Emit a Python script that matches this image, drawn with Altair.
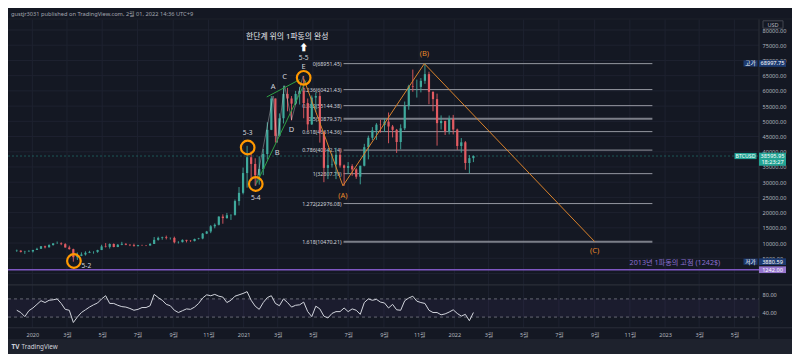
import altair as alt
import numpy as np
import pandas as pd

# ---------------- data ----------------
FIRST_WEEK = "2019-12-02"
FIRST_OPEN = 7400
CLOSE = [
    7500, 7100, 7150, 7250, 7750,
    8100, 8950, 8600, 9350, 9900,
    9900, 9650, 8550, 8000, 5350,
    5800, 6250, 6800, 7100, 7100,
    7700, 8900, 8750, 9700, 8700,
    9450, 9750, 9450, 9300, 9000,
    9300, 9250, 9200, 9700, 11050,
    11700, 11900, 11650, 11700, 10250,
    10300, 11050, 10750, 10650, 11350,
    11500, 13100, 13800, 15500, 16000,
    18700, 18200, 19150, 19250, 23800,
    26500, 33000, 38200, 36000, 32300,
    34300, 39250, 47200, 57500, 45200,
    51000, 59000, 57500, 55800, 59000,
    60000, 56000, 49000, 57800, 58300,
    46500, 34700, 35600, 35800, 39000,
    35500, 34700, 35300, 34200, 31800,
    35400, 41500, 44600, 47000, 48900,
    48800, 49900, 48300, 47200, 43200,
    47700, 55000, 61500, 61300, 61300,
    63300, 65500, 59700, 57300, 49400,
    50100, 46700, 50800, 47300, 41900,
    43100, 36300, 37900, 38595.95,
]
HIGH = [
    7850, 7650, 7450, 7700, 7750,
    8450, 9000, 9150, 9600, 9950,
    10500, 10250, 9950, 9150, 8150,
    6900, 6950, 7300, 7450, 7300,
    7800, 9450, 10000, 9900, 9900,
    9700, 10400, 9950, 9600, 9800,
    9400, 9450, 9350, 10000, 12000,
    12100, 12100, 12450, 11800, 12100,
    10600, 11200, 11050, 10950, 11450,
    11700, 13300, 14000, 15900, 16450,
    18800, 19450, 19900, 19450, 24300,
    28400, 34800, 41950, 40100, 37850,
    38500, 40900, 49700, 58300, 57500,
    52600, 61700, 61000, 58300, 60000,
    61300, 64900, 57500, 58500, 59500,
    59600, 46600, 40800, 39400, 41300,
    41000, 35800, 36600, 35900, 34600,
    35400, 42600, 45300, 48100, 49400,
    50500, 51000, 52900, 48800, 47500,
    49000, 56500, 62000, 67000, 63700,
    64200, 68997.75, 66300, 59800, 59100,
    51950, 50200, 51900, 52100, 47600,
    44500, 43500, 38900, 38800,
]
LOW = [
    7100, 6900, 6450, 7100, 6900,
    7750, 8050, 8250, 8550, 9150,
    9700, 9300, 8500, 7850, 3880.59,
    4450, 5700, 5900, 6700, 6500,
    6800, 7700, 8550, 8200, 8600,
    8650, 9300, 9300, 9000, 8850,
    8900, 9100, 9000, 9150, 9700,
    10800, 11100, 11200, 11150, 9900,
    9850, 10200, 10200, 10400, 10550,
    11200, 11250, 12950, 13250, 14850,
    15800, 16350, 18000, 17600, 19000,
    22350, 26000, 28200, 30400, 28850,
    29200, 32300, 37400, 47100, 43000,
    44950, 49300, 53300, 50300, 55500,
    55500, 51000, 47000, 48800, 53000,
    43000, 30000, 31000, 34800, 31000,
    34800, 28800, 32700, 32100, 31100,
    29300, 35200, 37500, 43800, 43900,
    46300, 46500, 42800, 44700, 39600,
    40800, 47100, 53800, 59700, 57800,
    59500, 62300, 55600, 53300, 42000,
    47300, 45500, 45700, 45700, 40600,
    39700, 34100, 32900, 36600,
]
RSI = [
    45, 40, 31, 44, 50, 58, 66, 62, 67, 68,
    70, 60, 47, 45, 18, 30, 40, 46, 52, 57,
    61, 70, 77, 60, 60, 56, 53, 52, 49, 45,
    47, 51, 51, 55, 80, 73, 67, 58, 55, 45,
    40, 44, 48, 47, 52, 60, 72, 79, 77, 80,
    76, 74, 62, 67, 76, 79, 82, 86, 67, 54,
    47, 62, 73, 77, 60, 55, 70, 62, 52, 56,
    57, 63, 42, 31, 54, 48, 32, 28, 38, 42,
    42, 50, 42, 48, 45, 36, 62, 70, 67, 69,
    63, 61, 50, 58, 46, 45, 66, 72, 76, 65,
    62, 60, 45, 40, 40, 35, 37, 41, 46, 38,
    32, 36, 22, 40,
]

PRICE_TICKS = [0, 5000, 10000, 15000, 20000, 25000, 30000, 35000, 40000,
               45000, 50000, 55000, 60000, 65000, 70000, 75000, 80000]
MONTH_TICKS = [(2020, 1), (2020, 3), (2020, 5), (2020, 7), (2020, 9), (2020, 11),
               (2021, 1), (2021, 3), (2021, 5), (2021, 7), (2021, 9), (2021, 11),
               (2022, 1), (2022, 3), (2022, 5), (2022, 7), (2022, 9), (2022, 11),
               (2023, 1), (2023, 3), (2023, 5)]
RSI_TICKS = [40, 80]
RSI_LEVELS = [70, 30]

FIB_RATIO = ["0", "0.236", "0.382", "0.5", "0.618", "0.786", "1", "1.272", "1.618"]
FIB_PRICE = [68951.45, 60421.43, 55144.38, 50879.37, 46614.36, 40542.14,
             32807.79, 22976.08, 10470.21]
FIB_START = "2021-06-23"
FIB_END = "2022-12-10"

ABC_NAME = ["", "(A)", "(B)", "(C)"]
ABC_DATE = ["2021-04-15", "2021-06-22", "2021-11-10", "2022-09-01"]
ABC_PRICE = [64000, 28800, 68950, 10470]

WAVE_NAME = ["5-4", "A", "B", "C", "D", "E"]
WAVE_DATE = ["2021-01-22", "2021-02-21", "2021-02-28", "2021-03-13", "2021-03-25", "2021-04-14"]
WAVE_PRICE = [28800, 58300, 43000, 61700, 50500, 64900]

CIRCLE_NAME = ["5-2", "5-3", "5-4", "E"]
CIRCLE_DATE = ["2020-03-13", "2021-01-08", "2021-01-22", "2021-04-15"]
CIRCLE_PRICE = [4100, 41400, 29400, 64300]

TREND_NAME = ["upper", "upper", "lower", "lower"]
TREND_DATE = ["2021-02-10", "2021-04-08", "2021-01-23", "2021-04-19"]
TREND_PRICE = [58000, 63700, 29500, 63400]

LAST_PRICE = 38595.95
LAST_TIME = "18:23:27"
HIGH_PRICE = 68997.75
LOW_PRICE = 3880.59
TOP_2013 = 1242.00
TOP_2013_TEXT = "2013년 1파동의 고점 (1242$)"
TOP_2013_DATE = "2023-01-18"
TITLE_TEXT = "한단계 위의 1파동의 완성"
HEADER_TEXT = "gustjr3031 published on TradingView.com, 2월 01, 2022 14:36 UTC+9"

# ---------------- tables ----------------
weeks = pd.date_range(FIRST_WEEK, periods=len(CLOSE), freq="7D") + pd.Timedelta(days=3)
candles = pd.DataFrame({
    "t": weeks.strftime("%Y-%m-%d"),
    "open": [FIRST_OPEN] + CLOSE[:-1],
    "close": CLOSE, "high": HIGH, "low": LOW, "rsi": RSI,
})
candles["dir"] = np.where(candles["close"] >= candles["open"], "up", "down")

fib = pd.DataFrame({"ratio": FIB_RATIO, "p": FIB_PRICE})
fib["x0"] = FIB_START
fib["x1"] = FIB_END
fib["label"] = [f"{r}({p:.2f})" for r, p in zip(FIB_RATIO, FIB_PRICE)]

abc = pd.DataFrame({"name": ABC_NAME, "t": ABC_DATE, "p": ABC_PRICE})
wave = pd.DataFrame({"name": WAVE_NAME, "t": WAVE_DATE, "p": WAVE_PRICE})
circ = pd.DataFrame({"name": CIRCLE_NAME, "t": CIRCLE_DATE, "p": CIRCLE_PRICE})
trend = pd.DataFrame({"name": TREND_NAME, "t": TREND_DATE, "p": TREND_PRICE})
price_ticks = pd.DataFrame({"p": PRICE_TICKS})
month_ticks = pd.DataFrame({"t": [f"{y}-{m:02d}-01" for y, m in MONTH_TICKS]})
rsi_levels = pd.DataFrame({"r": RSI_LEVELS})
rsi_ticks = pd.DataFrame({"r": RSI_TICKS})
rsi_band = pd.DataFrame({"hi": [max(RSI_LEVELS)], "lo": [min(RSI_LEVELS)]})

# ---------------- scales & helpers ----------------
W = 751
H = 346
FONT = "Noto Sans, Noto Sans CJK KR, sans-serif"
BG = "#141823"
GRID = "#1e2230"
SEP = "#2a2e39"
LABEL = "#b2b5be"
TEXT = "#d1d4dc"
AX_FS = 5.6

XS = alt.Scale(type="utc",
               domain=[alt.DateTime(year=2019, month=11, date=28, hours=12, utc=True),
                       alt.DateTime(year=2023, month=6, date=4, utc=True)])
XAXIS = alt.Axis(
    values=[alt.DateTime(year=y, month=m, date=1, utc=True) for y, m in MONTH_TICKS],
    labelExpr="utcmonth(datum.value) == 0 ? '' + utcyear(datum.value) : (utcmonth(datum.value) + 1) + '월'",
    orient="bottom", offset=-20, domain=False, ticks=False, grid=False,
    labelColor=LABEL, labelFontSize=AX_FS, labelFont=FONT, labelPadding=0,
    labelBaseline="middle", labelOverlap=False, labelFlush=False, title=None, zindex=0)
PS = alt.Scale(domain=[-3450, 83450], range=[276, 11.5], nice=False, zero=False)
RS = alt.Scale(domain=[7, 100], range=[319.5, 277.3], nice=False, zero=False)
PAXIS = alt.Axis(orient="right", values=PRICE_TICKS[1:], format=".2f", domain=False,
                 ticks=False, grid=False, labelColor=LABEL, labelFontSize=AX_FS,
                 labelFont=FONT, labelPadding=3, labelOverlap=False, title=None, zindex=0)
RAXIS = alt.Axis(orient="right", values=RSI_TICKS, format=".2f", domain=False,
                 ticks=False, grid=False, labelColor=LABEL, labelFontSize=AX_FS,
                 labelFont=FONT, labelPadding=3, labelOverlap=False, title=None, zindex=0)


def X(f):
    return alt.X(f, type="temporal", scale=XS, axis=XAXIS)


def YP(f, axis=None):
    return alt.Y(f, type="quantitative", scale=PS, axis=axis)


def YR(f, axis=None):
    return alt.Y(f, type="quantitative", scale=RS, axis=axis)


def only(names):
    return alt.FieldOneOfPredicate(field="name", oneOf=names)


layers = []

# grid
layers.append(alt.Chart(price_ticks).mark_rule(color=GRID, strokeWidth=1).encode(
    y=YP("p", PAXIS), x=alt.value(0), x2=alt.value(W)))
layers.append(alt.Chart(month_ticks).mark_rule(color=GRID, strokeWidth=1).encode(
    x=X("t"), y=alt.value(11.5), y2=alt.value(319.5)))

# RSI pane
layers.append(alt.Chart(rsi_band).mark_rect(color="#7e57c2", opacity=0.07).encode(
    x=alt.value(0), x2=alt.value(W), y=YR("hi"), y2="lo"))
layers.append(alt.Chart(rsi_ticks).mark_rule(opacity=0).encode(
    y=YR("r", RAXIS), x=alt.value(0), x2=alt.value(1)))
layers.append(alt.Chart(rsi_levels).mark_rule(color="#787b86", strokeDash=[3, 3], strokeWidth=0.8).encode(
    y=YR("r"), x=alt.value(0), x2=alt.value(W)))

# pane separators
layers.append(alt.Chart().mark_rule(color=SEP, strokeWidth=1).encode(
    x=alt.value(W), y=alt.value(11), y2=alt.value(331)))
layers.append(alt.Chart().mark_rule(color=SEP, strokeWidth=1.2).encode(
    x=alt.value(0), x2=alt.value(784), y=alt.value(276.8)))
layers.append(alt.Chart().mark_rule(color=SEP, strokeWidth=1).encode(
    x=alt.value(0), x2=alt.value(784), y=alt.value(319.8)))
layers.append(alt.Chart().mark_rule(color="#1c202b", strokeWidth=1).encode(
    x=alt.value(0), x2=alt.value(784), y=alt.value(11)))

# fib levels
layers.append(alt.Chart(fib).mark_rule(color="#9598a1").encode(
    x=X("x0"), x2="x1", y=YP("p"),
    strokeWidth=alt.condition("datum.ratio == '0.5' || datum.ratio == '1.618'",
                              alt.value(2), alt.value(1)),
    opacity=alt.condition("datum.ratio == '0.5' || datum.ratio == '1.618'",
                          alt.value(0.8), alt.value(1))))
layers.append(alt.Chart(fib).mark_text(align="right", baseline="middle", dx=-2,
                                       fontSize=5.3, color=TEXT, font=FONT).encode(
    x=X("x0"), y=YP("p"), text="label:N"))

# 2013 top line
top = pd.DataFrame({"p": [TOP_2013], "t": [TOP_2013_DATE], "txt": [TOP_2013_TEXT]})
layers.append(alt.Chart(top).mark_rule(color="#7e57c2", strokeWidth=1.5).encode(
    y=YP("p"), x=alt.value(0), x2=alt.value(W)))
layers.append(alt.Chart(top).mark_text(color="#8b6fd0", fontSize=7.2, font=FONT, dy=-7).encode(
    x=X("t"), y=YP("p"), text="txt:N"))

# current price dashed line
last = pd.DataFrame({"p": [LAST_PRICE]})
layers.append(alt.Chart(last).mark_rule(color="#26a69a", strokeDash=[2, 2], opacity=0.45).encode(
    y=YP("p"), x=alt.value(0), x2=alt.value(W)))

# candles
CCOL = alt.Color("dir:N", scale=alt.Scale(domain=["up", "down"], range=["#3fa99c", "#e25b62"]), legend=None)
layers.append(alt.Chart(candles).mark_rule(strokeWidth=0.9).encode(
    x=X("t"), y=YP("low"), y2="high", color=CCOL))
layers.append(alt.Chart(candles).mark_bar(width=2.2).encode(
    x=X("t"), y=YP("open"), y2="close", color=CCOL))

# RSI line
layers.append(alt.Chart(candles).mark_line(color="#d1d4dc", strokeWidth=1).encode(
    x=X("t"), y=YR("rsi")))

# wave drawing
layers.append(alt.Chart(wave).mark_line(color="#ffffff", strokeWidth=0.8, opacity=0.4).encode(
    x=X("t"), y=YP("p")))
layers.append(alt.Chart(trend).mark_line(color="#2ea043", strokeWidth=1).encode(
    x=X("t"), y=YP("p"), detail="name:N"))
layers.append(alt.Chart(abc).mark_line(color="#d9822b", strokeWidth=1).encode(
    x=X("t"), y=YP("p")))

# circles
layers.append(alt.Chart(circ).mark_point(shape="circle", filled=False, size=185, strokeWidth=2.2,
                                         color="#ff9800", opacity=1).encode(x=X("t"), y=YP("p")))


def label(df, names, dx, dy, color=TEXT, size=7.5):
    return alt.Chart(df).transform_filter(only(names)).mark_text(
        dx=dx, dy=dy, color=color, fontSize=size, font=FONT, baseline="middle").encode(
        x=X("t"), y=YP("p"), text="name:N")


layers.append(label(circ, ["5-2"], 12.5, 5, size=6.6))
layers.append(label(circ, ["5-3"], 0, -14.5, size=6.6))
layers.append(label(circ, ["5-4"], 0, 13.5, size=6.6))
layers.append(label(circ, ["E"], 0, -11, size=7.5))
layers.append(label(wave, ["A", "C"], 0, -9, size=7.5))
layers.append(label(wave, ["B", "D"], 0, 10, size=7.5))
layers.append(label(abc, ["(A)"], 0, 10, color="#e8892a", size=7.5))
layers.append(label(abc, ["(B)"], 0, -9.5, color="#e8892a", size=7.5))
layers.append(label(abc, ["(C)"], 0, 9.5, color="#e8892a", size=7.5))

e_only = alt.Chart(circ).transform_filter(only(["E"]))
layers.append(e_only.mark_text(dy=-20, color=TEXT, fontSize=6.6, font=FONT).encode(
    x=X("t"), y=YP("p"), text=alt.value("5-5")))
layers.append(e_only.mark_text(dy=-29.5, color="#ffffff", fontSize=9, font=FONT, fontWeight="bold").encode(
    x=X("t"), y=YP("p"), text=alt.value("⬆")))
layers.append(e_only.mark_text(dx=-16.5, dy=-41, color="#e6e8ee", fontSize=7.8, font=FONT).encode(
    x=X("t"), y=YP("p"), text=alt.value(TITLE_TEXT)))

# ---------------- price-axis tags ----------------
BOX_VALUE = "M-1,-0.25L1,-0.25L1,0.25L-1,0.25Z"
BOX_LAST = "M-1,-0.25L1,-0.25L1,0.72L-1,0.72Z"
BOX_SMALL = "M-1,-0.44L1,-0.44L1,0.44L-1,0.44Z"
BOX_TICKER = "M-1,-0.28L1,-0.28L1,0.28L-1,0.28Z"
VX = 764.5
NAVY = "#1c3a70"
TEAL = "#22a393"
TAG_FS = 5.6

nav = pd.DataFrame({"p": [HIGH_PRICE, LOW_PRICE], "name": ["고가", "저가"],
                    "value": [f"{HIGH_PRICE:.2f}", f"{LOW_PRICE:.2f}"]})
layers.append(alt.Chart(nav).mark_point(shape=BOX_VALUE, size=729, filled=True, color=NAVY, opacity=1).encode(
    x=alt.value(VX), y=YP("p")))
layers.append(alt.Chart(nav).mark_point(shape=BOX_SMALL, size=196, filled=True, color=NAVY, opacity=1).encode(
    x=alt.value(742.5), y=YP("p")))
layers.append(alt.Chart(nav).mark_text(color="#ffffff", fontSize=TAG_FS, font=FONT, baseline="middle").encode(
    x=alt.value(VX), y=YP("p"), text="value:N"))
layers.append(alt.Chart(nav).mark_text(color="#ffffff", fontSize=TAG_FS, font=FONT, baseline="middle").encode(
    x=alt.value(742.5), y=YP("p"), text="name:N"))

lastdf = pd.DataFrame({"p": [LAST_PRICE], "value": [f"{LAST_PRICE:.2f}"], "time": [LAST_TIME]})
layers.append(alt.Chart(lastdf).mark_point(shape=BOX_LAST, size=729, filled=True, color=TEAL, opacity=1).encode(
    x=alt.value(VX), y=YP("p")))
layers.append(alt.Chart(lastdf).mark_point(shape=BOX_TICKER, size=484, filled=True, color=TEAL, opacity=1).encode(
    x=alt.value(737.5), y=YP("p")))
layers.append(alt.Chart(lastdf).mark_text(color="#ffffff", fontSize=TAG_FS, font=FONT, baseline="middle").encode(
    x=alt.value(VX), y=YP("p"), text="value:N"))
layers.append(alt.Chart(lastdf).mark_text(color="#ffffff", fontSize=TAG_FS, font=FONT, baseline="middle", dy=6).encode(
    x=alt.value(VX), y=YP("p"), text="time:N"))
layers.append(alt.Chart(lastdf).mark_text(color="#ffffff", fontSize=5.2, font=FONT, baseline="middle").encode(
    x=alt.value(737.5), y=YP("p"), text=alt.value("BTCUSD")))

topdf = pd.DataFrame({"p": [TOP_2013], "value": [f"{TOP_2013:.2f}"]})
layers.append(alt.Chart(topdf).mark_point(shape=BOX_VALUE, size=729, filled=True, color="#9575cd", opacity=1).encode(
    x=alt.value(VX), y=YP("p")))
layers.append(alt.Chart(topdf).mark_text(color="#ffffff", fontSize=TAG_FS, font=FONT, baseline="middle").encode(
    x=alt.value(VX), y=YP("p"), text="value:N"))

# USD box
layers.append(alt.Chart().mark_point(shape="M-1,-0.37L1,-0.37L1,0.37L-1,0.37Z", size=400, filled=False,
                                     color="#434651", strokeWidth=1, opacity=1).encode(
    x=alt.value(765), y=alt.value(16.5)))
layers.append(alt.Chart().mark_text(color=LABEL, fontSize=AX_FS, font=FONT, baseline="middle").encode(
    x=alt.value(765), y=alt.value(16.5), text=alt.value("USD")))

# header & footer
layers.append(alt.Chart().mark_text(color="#a3a6af", fontSize=5.7, font=FONT, align="left",
                                    baseline="middle").encode(
    x=alt.value(3), y=alt.value(5.5), text=alt.value(HEADER_TEXT)))
layers.append(alt.Chart().mark_rect(color="#1e222d").encode(
    x=alt.value(0), x2=alt.value(784), y=alt.value(331), y2=alt.value(346)))
layers.append(alt.Chart().mark_text(color="#d1d4dc", fontSize=6.5, font=FONT, fontWeight="bold", align="left",
                                    baseline="middle").encode(
    x=alt.value(3.5), y=alt.value(338.5), text=alt.value("TV")))
layers.append(alt.Chart().mark_text(color="#d1d4dc", fontSize=6.3, font=FONT, align="left",
                                    baseline="middle").encode(
    x=alt.value(13.5), y=alt.value(338.5), text=alt.value("TradingView")))

chart = alt.layer(*layers).resolve_scale(y="independent").properties(
    width=W, height=H,
    padding={"left": 0, "top": 0, "right": 33, "bottom": 0},
    autosize=alt.AutoSizeParams(type="none"),
    background=BG,
).configure_view(strokeWidth=0)

chart.save("out.html", embed_options={"renderer": "svg", "actions": False})
